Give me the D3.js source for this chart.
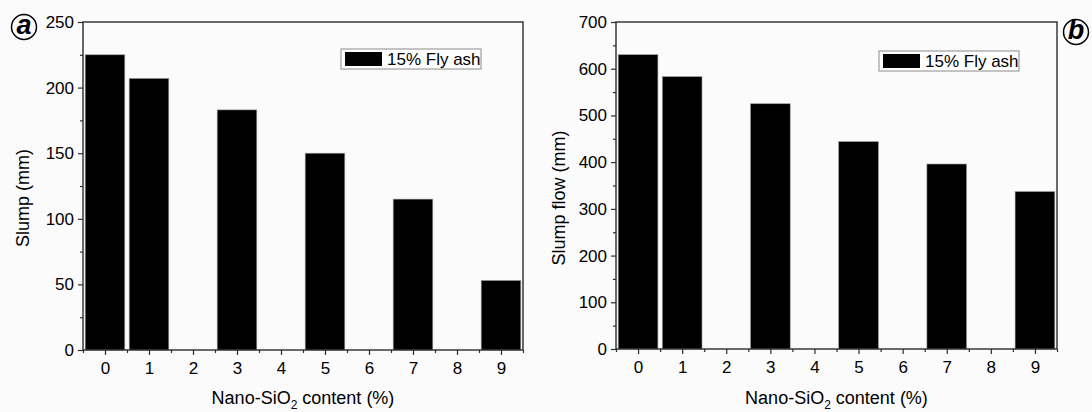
<!DOCTYPE html>
<html>
<head>
<meta charset="utf-8">
<script src="https://cdn.jsdelivr.net/npm/d3@7"></script>
<style>
    body { margin: 0; background: #fbfbfb; }
    svg text { font-family: "Liberation Sans", Arial, sans-serif; fill: #000; }
</style>
</head>
<body>
<div id="chart"></div>
<script>
// Data.
var contents = [0, 1, 2, 3, 4, 5, 6, 7, 8, 9];
var slump = [225, 207, null, 183, null, 150, null, 115, null, 53];
var slumpFlow = [630, 583, null, 525, null, 444, null, 396, null, 337];
var xTickLabels = ['0', '1', '2', '3', '4', '5', '6', '7', '8', '9'];
var slumpTicks = [0, 50, 100, 150, 200, 250];
var flowTicks = [0, 100, 200, 300, 400, 500, 600, 700];
var legendLabel = '15% Fly ash';

var svg = d3.select('#chart').append('svg')
    .attr('width', 1092)
    .attr('height', 412);

function Panel(opts) {
    var left = opts.left, right = opts.right,
        top = opts.top, bottom = opts.bottom,
        line_color = '#2b2b2b';

    var x = d3.scaleLinear().domain([-0.5, 9.5]).range([left, right]);
    var y = d3.scaleLinear().domain([0, opts.ymax]).range([bottom, top]);

    var g = svg.append('g');

    // Bars first so the axes sit on top.
    g.selectAll('rect.bar')
        .data(contents.filter(function (c, i) { return opts.values[i] != null; }))
        .enter().append('rect')
        .attr('class', 'bar')
        .attr('x', function (c) { return x(c - 0.45); })
        .attr('width', function (c) { return x(c + 0.45) - x(c - 0.45); })
        .attr('y', function (c) { return y(opts.values[c]); })
        .attr('height', function (c) { return y(0) - y(opts.values[c]); })
        .attr('fill', '#000')
        .attr('stroke', '#9a9a9a')
        .attr('stroke-width', 0.6);

    // Minor ticks at half steps.
    var xMinor = d3.range(-0.5, 10, 1);
    g.append('g')
        .attr('transform', 'translate(0,' + bottom + ')')
        .call(d3.axisBottom(x).tickValues(xMinor).tickSize(3).tickFormat(''));
    g.append('g')
        .attr('class', 'xaxis')
        .attr('transform', 'translate(0,' + bottom + ')')
        .call(d3.axisBottom(x).tickValues(contents).tickSize(5).tickPadding(7)
            .tickFormat(function (d, i) { return xTickLabels[i]; }));

    var step = opts.ticks[1] - opts.ticks[0];
    var yMinor = opts.ticks.slice(0, -1).map(function (t) { return t + step / 2; });
    g.append('g')
        .attr('transform', 'translate(' + left + ',0)')
        .call(d3.axisLeft(y).tickValues(yMinor).tickSize(3).tickFormat(''));
    g.append('g')
        .attr('transform', 'translate(' + left + ',0)')
        .call(d3.axisLeft(y).tickValues(opts.ticks).tickSize(5).tickPadding(4));

    g.selectAll('.domain').remove();
    g.selectAll('.tick line').attr('stroke', line_color).attr('stroke-width', 1.2);
    g.selectAll('.tick text').attr('font-size', '17px')
        .attr('font-family', '"Liberation Sans", Arial, sans-serif');

    // Frame.
    g.append('rect')
        .attr('x', left).attr('y', top)
        .attr('width', right - left).attr('height', bottom - top)
        .attr('fill', 'none')
        .attr('stroke', line_color)
        .attr('stroke-width', 1.4);

    // Axis titles.
    g.append('text')
        .attr('transform', 'translate(' + opts.ytitle_x + ',198) rotate(-90)')
        .attr('text-anchor', 'middle')
        .attr('font-size', '18px')
        .text(opts.ytitle);

    var xt = g.append('text')
        .attr('x', (left + right) / 2)
        .attr('y', 404)
        .attr('text-anchor', 'middle')
        .attr('font-size', '18px');
    xt.append('tspan').text('Nano-SiO');
    xt.append('tspan').attr('font-size', '12px').attr('dy', 5).text('2');
    xt.append('tspan').attr('dy', -5).text(' content (%)');

    // Legend.
    var lg = g.append('g').attr('transform', 'translate(' + opts.legend_x + ',' + opts.legend_y + ')');
    lg.append('rect')
        .attr('width', 140).attr('height', 20)
        .attr('fill', '#fff')
        .attr('stroke', '#8a8a8a')
        .attr('stroke-width', 1);
    lg.append('rect')
        .attr('x', 4).attr('y', 3)
        .attr('width', 37).attr('height', 14)
        .attr('fill', '#000');
    lg.append('text')
        .attr('x', 46).attr('y', 16)
        .attr('font-size', '17px')
        .text(legendLabel);

    // Panel letter.
    var pl = svg.append('g').attr('transform', 'translate(' + opts.tag_x + ',' + opts.tag_y + ')');
    pl.append('circle')
        .attr('r', 12.5)
        .attr('fill', 'none')
        .attr('stroke', '#000')
        .attr('stroke-width', 1.5);
    pl.append('text')
        .attr('text-anchor', 'middle')
        .attr('y', 7)
        .attr('font-family', '"Liberation Serif", "DejaVu Serif", serif')
        .attr('font-style', 'italic')
        .attr('font-weight', 'bold')
        .attr('font-size', '27px')
        .text(opts.tag);
}

new Panel({
    left: 83, right: 523, top: 22, bottom: 350,
    ymax: 250, values: slump, ticks: slumpTicks,
    ytitle: 'Slump (mm)', ytitle_x: 29,
    legend_x: 341, legend_y: 49,
    tag: 'a', tag_x: 24, tag_y: 27
});

new Panel({
    left: 616, right: 1057, top: 22, bottom: 349,
    ymax: 700, values: slumpFlow, ticks: flowTicks,
    ytitle: 'Slump flow (mm)', ytitle_x: 565,
    legend_x: 879, legend_y: 51,
    tag: 'b', tag_x: 1076, tag_y: 32
});
</script>
</body>
</html>
